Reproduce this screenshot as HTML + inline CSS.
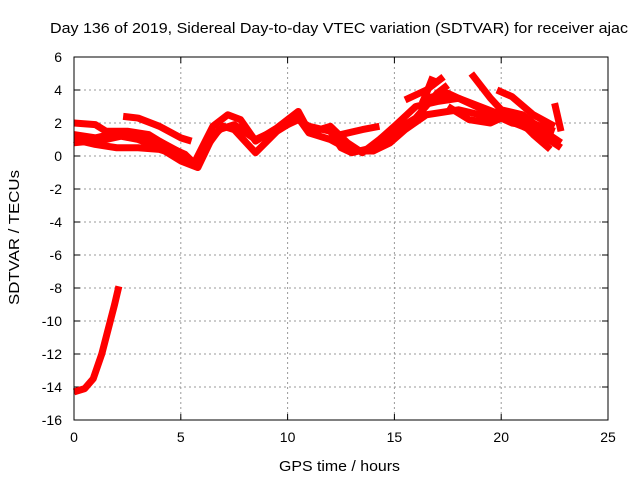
<!DOCTYPE html>
<html><head><meta charset="utf-8"><style>
body{margin:0;background:#fff}
svg{display:block;font-family:"Liberation Sans",sans-serif}
</style></head><body>
<svg id="chart" width="640" height="480">
<text x="50" y="33" font-size="15" textLength="578" lengthAdjust="spacingAndGlyphs">Day 136 of 2019, Sidereal Day-to-day VTEC variation (SDTVAR) for receiver ajac</text>
<text x="279" y="471" font-size="15" textLength="121" lengthAdjust="spacingAndGlyphs">GPS time / hours</text>
<text transform="translate(19,305) rotate(-90)" font-size="15" textLength="135" lengthAdjust="spacingAndGlyphs">SDTVAR / TECUs</text>
<g id="grid"></g><g id="marks"></g>
<rect x="74" y="57" width="534" height="363" fill="none" stroke="#000" stroke-width="1"/>
</svg>
<script>
const xTicks=[0,5,10,15,20,25];
const yTicks=[6,4,2,0,-2,-4,-6,-8,-10,-12,-14,-16];
const sA=[[0,2.0],[1,1.9],[1.5,1.5],[2.5,1.5],[3.5,1.3],[4.5,0.5],[5.2,0.1],[5.6,-0.4]];
const sB=[[0,1.0],[1,0.7],[2,0.5],[3,0.5],[4,0.4],[5,0.0]];
const sC=[[0,0.8],[0.8,0.9],[1.5,1.0],[2.2,1.2],[3,1.0],[4,0.5],[5,-0.3],[5.8,-0.7],[6.5,1.2],[7,1.8],[7.5,1.6],[8.5,0.2],[9.5,1.5],[10.5,2.3],[11,1.4],[12,1.0],[13,0.3],[14,0.3],[14.8,0.8],[15.5,1.6],[16.5,2.5],[18,2.8],[19,2.5],[20,2.3],[21,1.8],[22,1.2],[22.8,0.5]];
const sD=[[2.3,2.4],[3,2.3],[4,1.8],[5,1.1],[5.5,0.9]];
const sE=[[4,0.9],[5,0.2],[5.6,-0.5],[6.5,1.8],[7.2,2.5],[7.8,2.2],[8.5,0.9],[9.5,1.7],[10.5,2.7],[11,1.5],[11.5,1.6],[12,1.8],[12.8,0.8],[13.5,0.2],[14.3,1.0],[15,1.8],[16,3.0],[17,3.3],[18,3.5],[19,3.0],[20,2.5],[21,2.2],[22.5,1.5]];
const sF=[[6,0.2],[6.8,1.6],[7.5,1.9],[8.5,1.0],[9.5,1.6],[10.5,2.2],[11,1.8],[12,1.5],[12.5,0.5],[13,0.2],[14,0.5],[15,1.5],[16,2.3],[17,3.8],[17.5,4.3]];
const sG=[[15.5,3.4],[16.5,4.0],[17.3,4.8]];
const sH=[[16.3,3.2],[16.5,3.8],[16.8,4.8]];
const sI=[[18.6,5.0],[19.5,3.5],[20,2.8],[21,2.5],[22,1.5],[22.8,0.8]];
const sJ=[[19.8,4.0],[20.5,3.6],[21.5,2.5],[22.5,1.8]];
const sK=[[22.5,3.2],[22.8,1.5]];
const sL=[[12.5,1.3],[13.5,1.6],[14.3,1.8]];
const sM=[[17.5,3.0],[18.5,2.2],[19.5,2.0],[20.5,2.6],[21.5,1.3],[22.3,0.4]];
const sO=[[0,1.3],[1,1.1],[2,1.4],[3,1.3],[4,0.6],[5,0.1]];
const sP=[[16.5,3.5],[17.5,3.8],[18.5,3.2],[19.5,2.6],[20.5,2.0],[21.5,1.8],[22.5,1.0]];
const sN=[[0,-14.3],[0.5,-14.1],[0.9,-13.5],[1.3,-12],[1.6,-10.5],[1.9,-9],[2.1,-7.9]];
const series=[sA,sB,sC,sD,sE,sF,sG,sH,sI,sJ,sK,sL,sM,sO,sP,sN];
const X=v=>74+v*(534/25), Y=v=>57+(6-v)*(363/22);
const NS="http://www.w3.org/2000/svg";
const g=document.getElementById('grid'), m=document.getElementById('marks');
function el(t,a,p){const e=document.createElementNS(NS,t);for(const k in a)e.setAttribute(k,a[k]);p.appendChild(e);return e;}
xTicks.forEach(t=>{
 const x=X(t);
 if(t>0&&t<25){const l=el('line',{x1:x,x2:x,y1:57,y2:420,stroke:'#999','stroke-dasharray':'2,3'},g);
 
 }
 el('line',{x1:x,x2:x,y1:420,y2:414,stroke:'#000'},g);
 el('line',{x1:x,x2:x,y1:57,y2:63,stroke:'#000'},g);
 const tx=el('text',{x:x,y:442,'font-size':14,'text-anchor':'middle'},g);tx.textContent=t;
 
 
});
yTicks.forEach(t=>{
 const y=Y(t);
 if(t<6&&t>-16){const l=el('line',{x1:74,x2:608,y1:y,y2:y,stroke:'#999','stroke-dasharray':'2,3'},g);
 
 }
 el('line',{x1:74,x2:80,y1:y,y2:y,stroke:'#000'},g);
 el('line',{x1:602,x2:608,y1:y,y2:y,stroke:'#000'},g);
 const tx=el('text',{x:62,y:y+5,'font-size':14,'text-anchor':'end'},g);tx.textContent=t;
 
 
});
series.forEach((s,i)=>{
 const p=el('polyline',{points:s.map(d=>X(d[0])+','+Y(d[1])).join(' '),fill:'none',stroke:'#f00','stroke-width':7,'stroke-linejoin':'round'},m);
 
 
});
</script>
</body></html>
